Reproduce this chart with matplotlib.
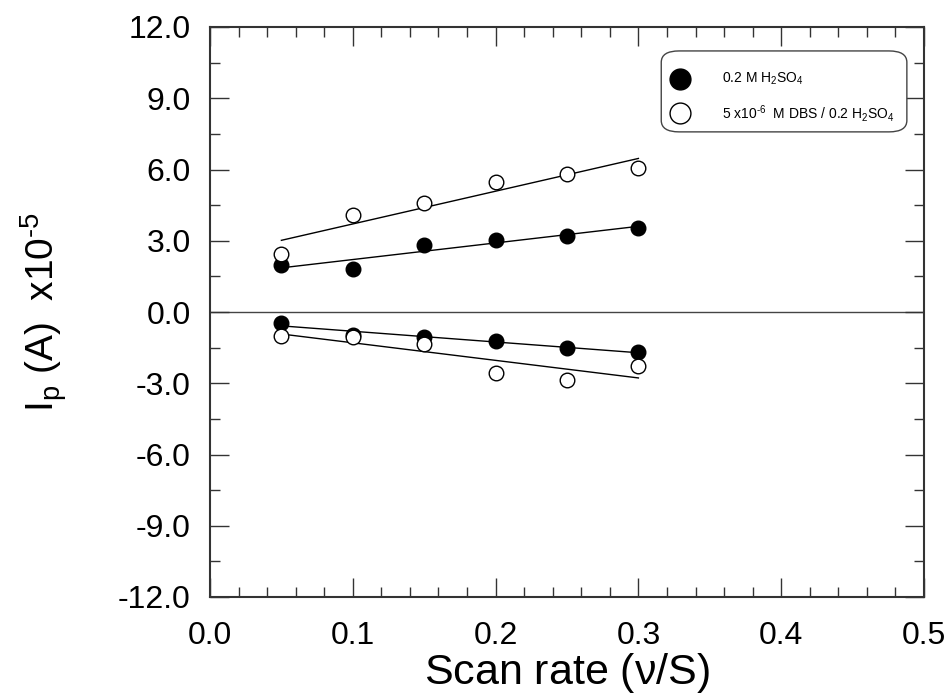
import numpy as np
import matplotlib
matplotlib.use("Agg")
import matplotlib.pyplot as plt
from matplotlib.ticker import MultipleLocator, FormatStrFormatter
from matplotlib.patches import FancyBboxPatch

plt.rcParams['font.family'] = ['Liberation Sans', 'DejaVu Sans']
plt.rcParams['axes.unicode_minus'] = False
plt.rcParams['mathtext.fontset'] = 'custom'
plt.rcParams['mathtext.rm'] = 'Liberation Sans'
plt.rcParams['mathtext.it'] = 'Liberation Sans'

# ------------------------------
# Data
# ------------------------------
scan_rate = [0.05, 0.10, 0.15, 0.20, 0.25, 0.30]

h2so4_anodic = [1.98, 1.81, 2.82, 3.03, 3.22, 3.54]
h2so4_cathodic = [-0.46, -0.97, -1.05, -1.22, -1.52, -1.68]

dbs_anodic = [2.44, 4.08, 4.60, 5.47, 5.80, 6.06]
dbs_cathodic = [-1.01, -1.05, -1.35, -2.57, -2.86, -2.27]

labels = [r'0.2 M H$_2$SO$_4$', r'5 x10$^{\text{-}6}$  M DBS / 0.2 H$_2$SO$_4$']

fig = plt.figure(figsize=(9.49, 6.96), dpi=100)
ax = fig.add_axes([210 / 949, 1 - 597 / 696, (924 - 210) / 949, (597 - 27) / 696])

x = np.array(scan_rate)

# regression lines
for ys in [h2so4_anodic, h2so4_cathodic, dbs_anodic, dbs_cathodic]:
    k, b = np.polyfit(x, ys, 1)
    ax.plot(x, k * x + b, color='black', lw=1.0, zorder=2)

ax.axhline(0, color='#444444', lw=1.0, zorder=1)

ax.plot(x, h2so4_anodic, 'o', ms=10.5, mfc='black', mec='black', zorder=3)
ax.plot(x, h2so4_cathodic, 'o', ms=10.5, mfc='black', mec='black', zorder=3)
ax.plot(x, dbs_anodic, 'o', ms=10.5, mfc='white', mec='black', mew=1.0, zorder=3)
ax.plot(x, dbs_cathodic, 'o', ms=10.5, mfc='white', mec='black', mew=1.0, zorder=3)

ax.set_xlim(0, 0.5)
ax.set_ylim(-12, 12)
ax.xaxis.set_major_locator(MultipleLocator(0.1))
ax.xaxis.set_minor_locator(MultipleLocator(0.02))
ax.yaxis.set_major_locator(MultipleLocator(3))
ax.yaxis.set_minor_locator(MultipleLocator(1.5))
ax.xaxis.set_major_formatter(FormatStrFormatter('%.1f'))
ax.yaxis.set_major_formatter(FormatStrFormatter('%.1f'))

ax.tick_params(which='both', direction='in', top=True, right=True,
               labelsize=23, color='#333333', width=1.0)
ax.tick_params(axis='y', which='major', length=14, pad=14)
ax.tick_params(axis='x', which='major', length=14, pad=17)
ax.tick_params(which='minor', length=7)
for s in ax.spines.values():
    s.set_linewidth(1.5)
    s.set_color('#333333')

ax.set_xlabel(r'Scan rate ($\nu$/S)', fontsize=31, labelpad=0)
ax.set_ylabel(r'I$_\mathrm{p}$ (A)  x10$^{\text{-}5}$', fontsize=28, labelpad=35)

# legend box drawn by hand
box = FancyBboxPatch((0.632, 0.816), 0.344, 0.142, transform=ax.transAxes,
                     boxstyle='round,pad=0,rounding_size=0.025',
                     fc='white', ec='#444444', lw=1.0, zorder=4,
                     mutation_aspect=570 / 714)
ax.add_patch(box)
ax.plot([0.658], [0.909], 'o', ms=15, mfc='black', mec='black',
        transform=ax.transAxes, zorder=5, clip_on=False)
ax.plot([0.658], [0.849], 'o', ms=15, mfc='white', mec='black', mew=1.0,
        transform=ax.transAxes, zorder=5, clip_on=False)
ax.text(0.717, 0.909, labels[0], transform=ax.transAxes, fontsize=10,
        va='center', ha='left', zorder=6)
ax.text(0.717, 0.849, labels[1], transform=ax.transAxes, fontsize=10,
        va='center', ha='left', zorder=6)

fig.savefig('out.png', dpi=100)
